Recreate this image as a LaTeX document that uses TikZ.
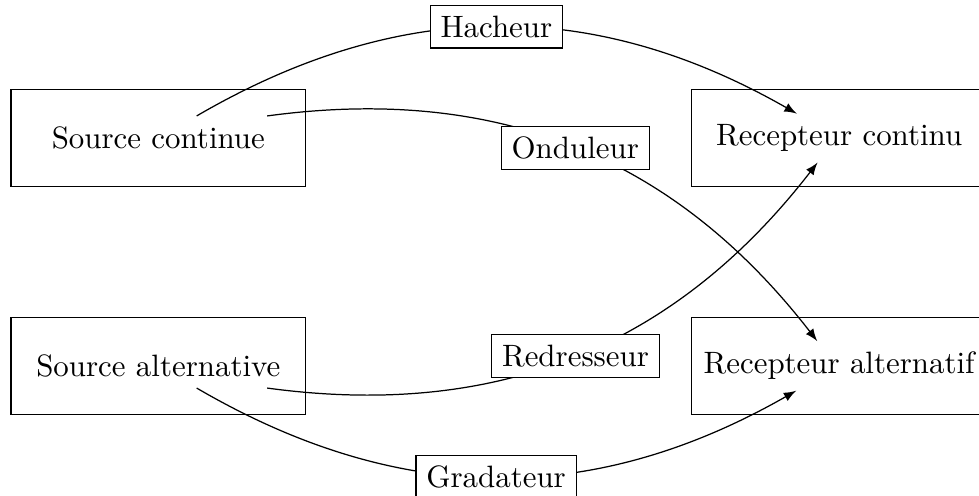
\documentclass[tikz,border=0pt]{standalone}
\usepackage{tikz}
\tikzset{bloc/.style={draw,minimum width=3.35cm,minimum height=1.1cm},conv/.style={draw,fill=white}}

\begin{document}
\begin{tikzpicture}
\useasboundingbox (-1.80,1.57) rectangle (9.33,-4.06);
\node (sc) at (0,0) {Source continue};
\node (rc) at (7.74,0) {Recepteur continu};
\node (sa) at (0,-2.59) {Source alternative};
\node (ra) at (7.74,-2.59) {Recepteur alternatif};
\foreach \n in {sc,rc,sa,ra} {
\node[bloc] (b\n) at (\n) {};
}
\draw[-latex] (sc) to[bend left=30] node[conv] (hach) {Hacheur} (rc);
\draw[-latex] (sc) to[bend left=30] node[conv] (ond) {Onduleur} (ra);
\draw[-latex] (sa) to[bend right=30] node[conv] (red) {Redresseur} (rc);
\draw[-latex] (sa) to[bend right=30] node[conv] (grad) {Gradateur} (ra);
\end{tikzpicture}
\end{document}
